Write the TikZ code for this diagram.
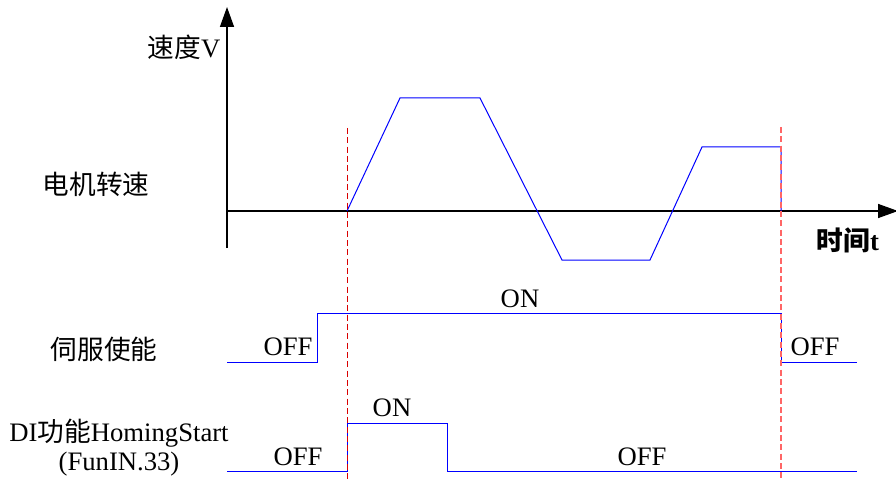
\documentclass[tikz,border=0pt]{standalone}
\usepackage{fontspec}
\setmainfont{Liberation Serif}
\newfontfamily\cjk{Noto Sans CJK SC}
\usetikzlibrary{arrows.meta}
\begin{document}
\begin{tikzpicture}[x=0.75pt,y=-0.75pt,
  lbl/.style={font=\fontsize{20}{23}\selectfont, inner sep=0pt},
  sig/.style={blue, line width=0.75pt},
  axisline/.style={black, line width=1.1pt},
  tip/.style={-{Triangle[length=15pt,width=10.5pt]}},
  markA/.style={red!85!black, dash pattern=on 4.5pt off 2.5pt, line width=0.7pt},
  markB/.style={red!60, dash pattern=on 4.5pt off 2.5pt, line width=0.8pt}
]
\useasboundingbox (0,0) rectangle (896,481);
% axes
\coordinate (yb) at (227,248);
\coordinate (yt) at (227,7);
\coordinate (xl) at (227,211);
\coordinate (xr) at (898,211);
\draw[axisline,tip] (yb) -- (yt);
\draw[axisline,tip] (xl) -- (xr);
% speed curve
\coordinate (s0) at (347,211);
\coordinate (s1) at (400,98);
\coordinate (s2) at (480,98);
\coordinate (s3) at (562,260);
\coordinate (s4) at (650,260);
\coordinate (s5) at (702,147);
\coordinate (s6) at (781,147);
\coordinate (s7) at (781,211);
\draw[sig] (s0) -- (s1) -- (s2) -- (s3) -- (s4) -- (s5) -- (s6) -- (s7);
% servo enable
\coordinate (e0) at (227,362);
\coordinate (e1) at (317,362);
\coordinate (e2) at (317,313);
\coordinate (e3) at (781,313);
\coordinate (e4) at (781,362);
\coordinate (e5) at (857,362);
\draw[sig] (e0) -- (e1) -- (e2) -- (e3) -- (e4) -- (e5);
% DI HomingStart
\coordinate (d0) at (227,471);
\coordinate (d1) at (347,471);
\coordinate (d2) at (347,423);
\coordinate (d3) at (447,423);
\coordinate (d4) at (447,471);
\coordinate (d5) at (857,471);
\draw[sig] (d0) -- (d1) -- (d2) -- (d3) -- (d4) -- (d5);
% dashed markers
\coordinate (ma) at (347,128);
\coordinate (mab) at (347,481);
\coordinate (mb) at (781,127);
\coordinate (mbb) at (781,481);
\draw[markA] (ma) -- (mab);
\draw[markB] (mb) -- (mbb);
% labels
\node[lbl] (lv) at (184,47) {{\cjk 速度}V};
\node[lbl] (lmotor) at (96,184) {\cjk 电机转速};
\node[lbl,font=\fontsize{20}{23}\selectfont\bfseries] (lt) at (848,240) {{\cjk\bfseries 时间}t};
\node[lbl,anchor=base] (lon1) at (520,307) {ON};
\node[lbl,anchor=base] (loff1) at (288,355) {OFF};
\node[lbl,anchor=base] (loff2) at (815,355) {OFF};
\node[lbl] (lservo) at (104,349) {\cjk 伺服使能};
\node[lbl,anchor=base] (ldi) at (119,441) {DI{\cjk 功能}HomingStart};
\node[lbl,anchor=base] (lfun) at (119,470) {(FunIN.33)};
\node[lbl,anchor=base] (lon2) at (392,416) {ON};
\node[lbl,anchor=base] (loff3) at (298,465) {OFF};
\node[lbl,anchor=base] (loff4) at (642,465) {OFF};
\end{tikzpicture}
\end{document}
